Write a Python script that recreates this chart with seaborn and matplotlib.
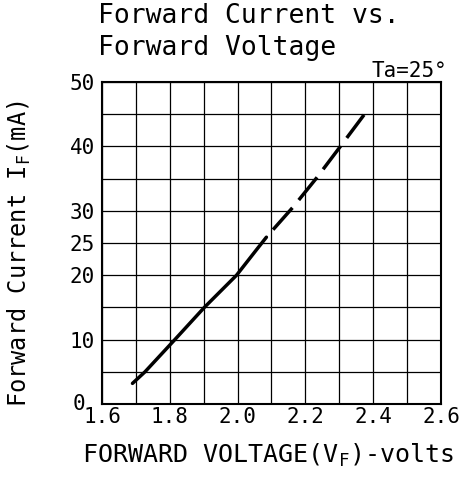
import matplotlib
matplotlib.use("Agg")
import matplotlib.pyplot as plt
import numpy as np
import pandas as pd
import seaborn as sns

# Forward current (mA) vs forward voltage (V)
solid_v = [1.690, 1.727, 1.815, 1.902, 1.997, 2.055, 2.085]
solid_i = [3.2, 5.0, 10.0, 15.0, 20.0, 23.9, 25.9]
dash_v = [2.085, 2.164, 2.233, 2.299, 2.373]
dash_i = [25.9, 30.6, 35.1, 39.7, 44.9]

x_labels = ["1.6", "1.8", "2.0", "2.2", "2.4", "2.6"]
y_labels = ["10", "20", "25", "30", "40", "50"]

sns.set_style("white")
plt.rcParams["font.family"] = ["DejaVu Sans Mono", "DejaVu Sans"]
plt.rcParams["text.color"] = "black"
plt.rcParams["xtick.color"] = "black"
plt.rcParams["ytick.color"] = "black"

fig = plt.figure(figsize=(4.73, 4.79), dpi=100)
ax = fig.add_axes([0.2156, 0.1566, 0.7167, 0.6722])

# solid part of the curve, then the dashed extrapolation
df_solid = pd.DataFrame({"V": solid_v, "I": solid_i})
df_dash = pd.DataFrame({"V": dash_v, "I": dash_i})
sns.lineplot(data=df_solid, x="V", y="I", ax=ax, color="black", linewidth=2.5, sort=False)
sns.lineplot(data=df_dash, x="V", y="I", ax=ax, color="black", linewidth=2.5, sort=False)
ax.lines[-1].set_linestyle((8.4, (8.4, 2.9)))

ax.set_xlim(1.6, 2.6)
ax.set_ylim(0, 50)
xt = np.round(np.arange(1.6, 2.61, 0.1), 1)
yt = np.arange(0, 51, 5)
ax.set_xticks(xt)
ax.set_yticks(yt)
ax.grid(True, color="black", linewidth=0.9)
ax.set_xticklabels([f"{v:.1f}" if f"{v:.1f}" in x_labels else "" for v in xt], fontsize=15)
ax.set_yticklabels([str(v) if str(v) in y_labels else "" for v in yt], fontsize=15)
ax.tick_params(axis="x", length=0, pad=2)
ax.tick_params(axis="y", length=0, pad=5)
ax.text(-0.05, 0.0, "0", transform=ax.transAxes, ha="right", va="center", fontsize=15)
for s in ax.spines.values():
    s.set_color("black")
    s.set_linewidth(1.5)
ax.set_xlabel("")
ax.set_ylabel("")

fig.text(0.208, 0.966, "Forward Current vs.", fontsize=19, ha="left", va="center")
fig.text(0.208, 0.9, "Forward Voltage", fontsize=19, ha="left", va="center")
fig.text(0.945, 0.852, "Ta=25°", fontsize=15, ha="right", va="center")
fig.text(0.042, 0.47, "Forward Current I$\\mathregular{_F}$(mA)", fontsize=17,
         rotation=90, ha="center", va="center")
fig.text(0.567, 0.05, "FORWARD VOLTAGE(V$\\mathregular{_F}$)-volts", fontsize=18,
         ha="center", va="center")

fig.savefig("out.png", dpi=100)
